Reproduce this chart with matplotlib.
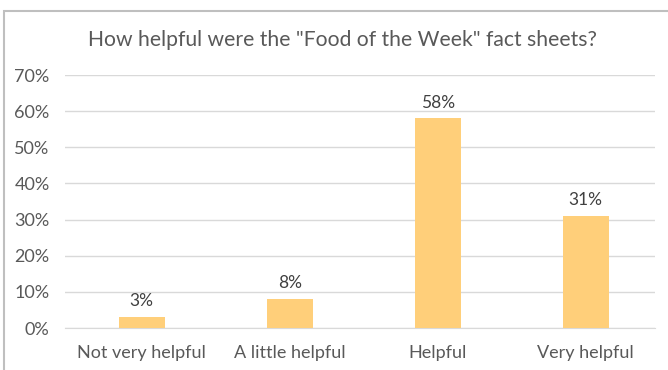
import matplotlib.pyplot as plt
from matplotlib.patches import Rectangle
from matplotlib.ticker import PercentFormatter

categories = ["Not very helpful", "A little helpful", "Helpful", "Very helpful"]
shares = [3, 8, 58, 31]
yticks = [0, 10, 20, 30, 40, 50, 60, 70]

plt.rcParams['font.family'] = ['Lato', 'DejaVu Sans']
label_col = '#404040'
axis_col = '#595959'

fig = plt.figure(figsize=(6.68, 3.70), dpi=100)
ax = fig.add_axes([0.097, 0.1135, 0.884, 0.6835])

x = range(len(categories))
bars = ax.bar(x, shares, width=0.31, color='#FFCF7A', zorder=3)
for b, v in zip(bars, shares):
    ax.text(b.get_x() + b.get_width() / 2, v + 2.2, f"{v}%",
            ha='center', va='bottom', fontsize=12.5, color=label_col)

ax.set_xlim(-0.52, 3.47)
ax.set_ylim(0, 70)
ax.set_yticks(yticks)
ax.yaxis.set_major_formatter(PercentFormatter(decimals=0))
ax.set_xticks(list(x))
ax.set_xticklabels(categories)
ax.grid(axis='y', color='#D9D9D9', linewidth=1, zorder=0)
for s in ax.spines.values():
    s.set_visible(False)
ax.spines['bottom'].set_visible(True)
ax.spines['bottom'].set_color('#D9D9D9')
ax.tick_params(length=0, labelsize=13, colors=axis_col)
ax.tick_params(axis='y', pad=11)
ax.tick_params(axis='x', pad=12)

fig.text(0.512, 0.892, 'How helpful were the "Food of the Week" fact sheets?',
         ha='center', va='center', fontsize=15.2, color=axis_col)

# outer chart border
fig.patches.append(Rectangle((4 / 668, -0.05), 1.2, 0.97 + 0.05,
                             transform=fig.transFigure, fill=False,
                             edgecolor='#BFBFBF', linewidth=1.5))

fig.savefig('out.png', dpi=100)
